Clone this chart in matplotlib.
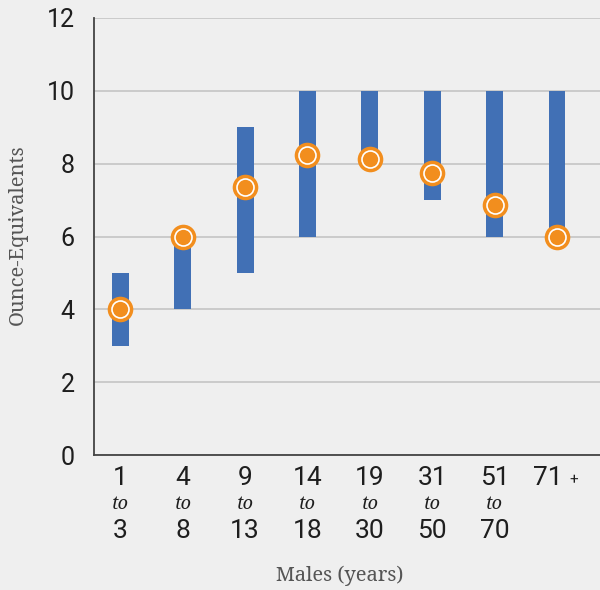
import matplotlib.pyplot as plt
from matplotlib import font_manager
from matplotlib.transforms import blended_transform_factory

start_age=["1","4","9","14","19","31","51","71"]
end_age=["3","8","13","18","30","50","70",""]
low=[3,4,5,6,8,7,6,6]
high=[5,6,9,10,10,10,10,10]
intake=[4.0,6.0,7.35,8.25,8.13,7.74,6.87,6.0]
yticks=[0,2,4,6,8,10,12]

names={f.name for f in font_manager.fontManager.ttflist}
num_font="Liberation Sans Narrow" if "Liberation Sans Narrow" in names else "Roboto"
serif="Noto Serif" if "Noto Serif" in names else "DejaVu Serif"

bg="#efefef"
blue="#4170b5"
orange="#f28e1e"
ink="#1e1e1e"

fig=plt.figure(figsize=(6,5.9),dpi=100,facecolor=bg)
ax=fig.add_axes([0.157,0.2288,0.843,0.7407])
ax.set_facecolor(bg)

x=list(range(len(start_age)))
ax.bar(x,[h-l for h,l in zip(high,low)],bottom=low,width=0.27,color=blue,zorder=2)
ax.scatter(x,intake,s=340,color=orange,zorder=3,linewidths=0)
ax.scatter(x,intake,s=150,facecolor=orange,edgecolor="white",linewidths=1.2,zorder=4)

ax.set_xlim(-0.42,7.69)
ax.set_ylim(0,12)
ax.set_yticks(yticks)
ax.set_yticklabels([str(v) for v in yticks],fontfamily=num_font,fontsize=18,color=ink)
ax.yaxis.grid(True,color="#c4c4c4",linewidth=1.2,zorder=0)
ax.tick_params(axis="y",length=0,pad=14)
ax.set_xticks([])
for s in ["top","right"]:
    ax.spines[s].set_visible(False)
ax.spines["left"].set_color("#444444")
ax.spines["bottom"].set_color("#444444")
ax.spines["left"].set_linewidth(1.3)
ax.spines["bottom"].set_linewidth(1.3)

tr=blended_transform_factory(ax.transData,fig.transFigure)
for i in x:
    if end_age[i]:
        ax.text(i,1-478/590,start_age[i],transform=tr,ha="center",va="center",fontfamily=num_font,fontsize=19,color=ink)
        ax.text(i,1-504/590,"to",transform=tr,ha="center",va="center",fontfamily=serif,style="italic",fontsize=13,color=ink)
        ax.text(i,1-531/590,end_age[i],transform=tr,ha="center",va="center",fontfamily=num_font,fontsize=19,color=ink)
    else:
        ax.text(i-0.15,1-478/590,start_age[i],transform=tr,ha="center",va="center",fontfamily=num_font,fontsize=19,color=ink)
        ax.text(i+0.27,1-480/590,"+",transform=tr,ha="center",va="center",fontfamily=num_font,fontsize=11,color=ink)

fig.text(340/600,1-576/590,"Males (years)",ha="center",va="center",fontfamily=serif,fontsize=14.5,color="#555555")
fig.text(18/600,1-235/590,"Ounce-Equivalents",ha="center",va="center",rotation=90,fontfamily=serif,fontsize=14.5,color="#555555")

fig.savefig("out.png",dpi=100,facecolor=bg)
